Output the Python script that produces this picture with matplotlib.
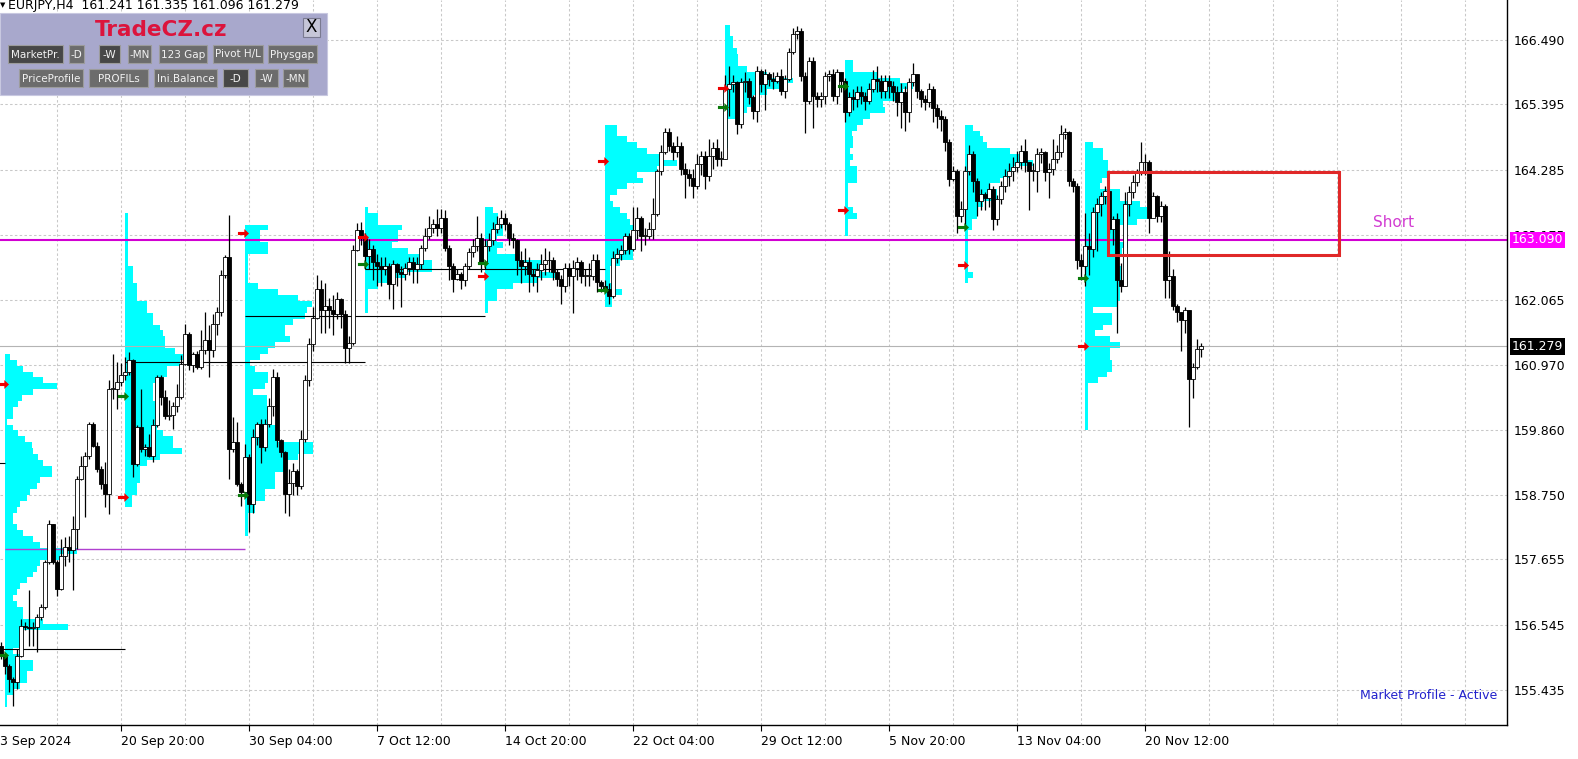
'''EURJPY H4 chart with weekly market profiles (MT4 style)'''

import numpy as np
import matplotlib.pyplot as plt
from matplotlib.patches import Rectangle
from matplotlib.path import Path
import matplotlib.transforms as mtransforms

# ---- quote header (last bar O H L C)
symbol = "EURJPY,H4"
last_ohlc = [161.241, 161.335, 161.096, 161.279]
first_open = 156.19

# ---- H4 candles, one value per bar (bar 0 = leftmost)
close = [
    156.01, 155.85, 155.63, 155.57, 156.02, 156.53, 156.50, 156.49, 156.50, 156.68,
    156.85, 157.61, 158.26, 157.61, 157.16, 157.72, 157.87, 157.81, 158.18, 159.03,
    159.25, 159.42, 159.96, 159.59, 159.20, 158.94, 158.77, 160.56, 160.56, 160.67,
    160.79, 160.84, 161.04, 159.28, 159.91, 159.54, 159.57, 159.42, 159.94, 160.76,
    160.42, 160.10, 160.12, 160.27, 160.42, 160.98, 161.49, 160.96, 161.15, 160.93,
    161.21, 161.38, 161.21, 161.66, 161.86, 162.49, 162.80, 159.54, 159.65, 158.94,
    158.80, 159.40, 158.60, 159.73, 159.96, 159.56, 159.96, 160.27, 160.75, 159.68,
    159.48, 158.77, 158.95, 159.16, 158.90, 159.70, 160.70, 161.32, 161.77, 162.26,
    161.89, 161.97, 161.90, 161.83, 162.08, 161.83, 161.26, 161.34, 162.91, 163.25,
    163.13, 162.82, 162.93, 162.71, 162.65, 162.60, 162.65, 162.34, 162.68, 162.54,
    162.51, 162.62, 162.71, 162.60, 162.68, 162.96, 163.16, 163.30, 163.36, 163.30,
    163.47, 162.96, 162.65, 162.42, 162.51, 162.40, 162.65, 162.88, 162.99, 163.13,
    162.71, 162.99, 163.08, 163.27, 163.36, 163.47, 163.36, 163.13, 163.08, 162.74,
    162.65, 162.71, 162.51, 162.48, 162.57, 162.68, 162.74, 162.74, 162.54, 162.42,
    162.31, 162.62, 162.48, 162.62, 162.71, 162.48, 162.48, 162.48, 162.74, 162.37,
    162.31, 162.26, 162.14, 162.79, 162.85, 162.91, 163.16, 162.94, 163.25, 163.47,
    163.16, 163.16, 163.27, 163.53, 164.27, 164.58, 164.92, 164.69, 164.58, 164.69,
    164.30, 164.21, 164.15, 164.01, 164.38, 164.52, 164.18, 164.52, 164.66, 164.47,
    164.47, 165.66, 165.74, 165.77, 165.06, 165.77, 165.80, 165.52, 165.29, 165.97,
    165.74, 165.91, 165.83, 165.80, 165.88, 165.63, 165.83, 166.28, 166.59, 166.65,
    165.88, 165.46, 166.14, 165.54, 165.49, 165.54, 165.88, 165.91, 165.54, 165.94,
    165.80, 165.26, 165.52, 165.49, 165.60, 165.54, 165.46, 165.66, 165.83, 165.80,
    165.63, 165.80, 165.71, 165.60, 165.43, 165.60, 165.26, 165.77, 165.91, 165.63,
    165.49, 165.43, 165.66, 165.34, 165.20, 165.15, 164.75, 164.13, 164.27, 163.50,
    163.62, 164.27, 164.55, 164.10, 163.76, 163.87, 163.81, 163.96, 163.45, 163.79,
    164.01, 164.18, 164.27, 164.33, 164.41, 164.61, 164.41, 164.27, 164.27, 164.55,
    164.58, 164.24, 164.30, 164.47, 164.58, 164.89, 164.92, 164.10, 164.01, 162.74,
    162.65, 162.99, 162.94, 163.56, 163.70, 163.84, 163.93, 163.28, 163.45, 162.40,
    162.31, 163.70, 163.90, 164.07, 164.24, 164.41, 164.41, 163.47, 163.84, 163.50,
    163.67, 162.40, 162.48, 161.97, 161.86, 161.72, 161.89, 160.72, 160.92, 161.24,
    161.279,
]
high = [
    156.25, 156.05, 155.88, 155.66, 156.14, 156.65, 156.60, 157.13, 156.60, 156.72,
    156.90, 157.65, 158.32, 158.24, 157.65, 158.01, 158.04, 158.06, 158.40, 159.08,
    159.42, 159.48, 159.99, 160.00, 159.65, 159.25, 159.31, 160.70, 161.15, 161.01,
    161.00, 161.10, 161.18, 161.07, 159.94, 160.56, 159.62, 159.79, 160.05, 160.79,
    160.79, 160.53, 160.36, 160.33, 160.64, 161.13, 161.66, 161.52, 161.18, 161.20,
    161.55, 161.86, 161.64, 161.83, 161.95, 162.57, 162.83, 163.51, 160.08, 159.99,
    158.97, 159.62, 159.45, 159.87, 160.00, 160.04, 160.05, 160.40, 160.90, 160.84,
    159.70, 159.50, 159.20, 159.30, 159.20, 159.85, 160.80, 161.42, 161.95, 162.50,
    162.40, 162.35, 162.10, 162.15, 162.20, 162.10, 161.90, 161.45, 163.00, 163.38,
    163.40, 163.20, 163.10, 163.00, 162.85, 162.80, 162.80, 162.70, 162.75, 162.70,
    162.65, 162.70, 162.80, 162.80, 162.80, 163.00, 163.30, 163.50, 163.45, 163.62,
    163.62, 163.60, 163.00, 162.70, 162.60, 162.55, 162.70, 162.95, 163.10, 163.50,
    163.20, 163.10, 163.20, 163.40, 163.50, 163.60, 163.55, 163.40, 163.20, 163.10,
    162.90, 162.95, 162.80, 162.60, 162.70, 162.85, 162.95, 162.90, 162.80, 162.60,
    162.50, 162.70, 162.70, 162.75, 162.80, 162.75, 162.60, 162.70, 162.85, 162.85,
    162.40, 162.40, 162.35, 162.90, 162.95, 163.00, 163.20, 163.20, 163.65, 163.65,
    163.50, 163.30, 163.40, 163.80, 164.30, 164.70, 165.00, 165.00, 164.75, 164.85,
    164.75, 164.40, 164.30, 164.30, 164.55, 164.60, 164.60, 164.80, 164.75, 164.80,
    164.60, 165.90, 166.05, 165.90, 165.80, 165.85, 165.95, 165.85, 165.55, 166.05,
    166.00, 166.00, 165.95, 165.95, 165.95, 166.00, 165.90, 166.35, 166.70, 166.73,
    166.70, 165.95, 166.20, 166.20, 165.60, 165.60, 165.95, 165.98, 166.00, 166.00,
    165.95, 165.85, 165.60, 165.65, 165.70, 165.70, 165.60, 165.75, 165.98, 166.05,
    165.90, 165.90, 165.90, 165.80, 165.70, 165.75, 165.70, 165.85, 166.10, 165.90,
    165.65, 165.55, 165.75, 165.70, 165.40, 165.30, 165.20, 164.80, 164.35, 164.30,
    163.75, 164.35, 164.70, 164.60, 164.15, 163.95, 163.90, 164.05, 164.00, 163.85,
    164.10, 164.30, 164.40, 164.50, 164.60, 164.70, 164.80, 164.40, 164.40, 164.65,
    164.65, 164.60, 164.40, 164.80, 164.70, 165.05, 165.00, 164.95, 164.15, 164.05,
    162.85, 163.55, 163.20, 163.65, 163.80, 163.90, 164.00, 163.85, 163.50, 163.55,
    162.70, 163.90, 164.00, 164.20, 164.30, 164.76, 164.55, 164.45, 163.90, 163.85,
    163.75, 163.70, 162.90, 162.60, 162.00, 161.85, 161.95, 161.90, 161.00, 161.40,
    161.335,
]
low = [
    155.97, 155.71, 155.40, 155.17, 155.46, 156.00, 156.45, 156.19, 156.19, 156.08,
    156.62, 156.82, 157.58, 157.58, 157.04, 157.13, 157.55, 157.61, 157.13, 157.84,
    159.00, 158.38, 159.37, 159.57, 159.14, 158.86, 158.55, 158.43, 160.39, 160.22,
    160.60, 160.70, 160.80, 159.06, 159.25, 159.48, 159.42, 159.40, 159.31, 159.90,
    160.28, 160.05, 160.02, 159.88, 160.16, 160.39, 160.96, 160.87, 160.84, 160.90,
    160.90, 161.15, 160.76, 161.10, 161.47, 161.80, 162.45, 159.03, 159.48, 158.91,
    158.57, 158.72, 158.12, 158.45, 159.60, 159.30, 159.50, 159.90, 160.10, 159.56,
    159.40, 158.44, 158.40, 158.75, 158.75, 158.85, 159.65, 160.60, 161.20, 161.75,
    161.50, 161.50, 161.60, 161.48, 161.75, 161.60, 161.00, 161.00, 161.30, 162.90,
    163.00, 162.60, 162.60, 162.40, 162.30, 162.31, 162.50, 162.09, 161.92, 162.30,
    161.95, 162.40, 162.50, 162.35, 162.35, 162.60, 162.90, 163.10, 163.20, 163.15,
    163.20, 162.90, 162.40, 162.20, 162.40, 162.25, 162.30, 162.60, 162.80, 162.90,
    162.55, 162.60, 162.90, 163.00, 163.20, 163.30, 163.25, 163.00, 162.95, 162.50,
    162.35, 162.50, 162.20, 162.30, 162.20, 162.40, 162.50, 162.55, 162.40, 162.30,
    162.00, 162.20, 162.30, 161.85, 162.40, 162.35, 162.30, 162.30, 162.40, 162.20,
    162.20, 162.20, 162.00, 162.10, 162.70, 162.75, 162.85, 162.85, 162.90, 163.10,
    162.90, 163.00, 163.10, 163.10, 163.50, 164.20, 164.55, 164.60, 164.45, 164.50,
    164.20, 163.80, 164.00, 163.80, 163.95, 164.20, 163.95, 164.10, 164.30, 164.35,
    164.35, 164.70, 165.20, 165.60, 164.89, 165.00, 165.60, 165.40, 165.15, 165.10,
    165.60, 165.30, 165.70, 165.65, 165.75, 165.55, 165.50, 165.80, 166.25, 166.50,
    165.80, 164.90, 165.40, 165.00, 165.35, 165.35, 165.40, 165.80, 165.45, 165.40,
    165.60, 165.10, 165.20, 165.30, 165.35, 165.40, 165.30, 165.40, 165.60, 165.60,
    165.50, 165.50, 165.50, 165.45, 165.20, 165.00, 164.95, 165.10, 165.70, 165.50,
    165.35, 165.30, 165.35, 165.10, 165.00, 164.95, 164.60, 164.00, 164.10, 163.20,
    163.40, 163.30, 164.20, 163.90, 163.50, 163.60, 163.60, 163.65, 163.25, 163.35,
    163.70, 163.90, 164.00, 164.10, 164.25, 164.30, 164.25, 163.60, 164.10, 163.90,
    164.40, 164.10, 163.80, 164.20, 164.40, 164.50, 164.80, 164.00, 163.90, 162.60,
    162.40, 162.30, 162.50, 162.80, 162.90, 163.50, 163.70, 163.20, 163.00, 161.50,
    162.20, 162.30, 163.50, 163.80, 164.00, 164.20, 164.20, 163.20, 163.50, 163.40,
    163.40, 162.10, 162.10, 161.90, 161.70, 161.20, 161.50, 159.90, 160.40, 160.90,
    161.096,
]

# ---- weekly market profiles: first bar of the week, top price, TPO widths (0.1 steps, top -> down)
prof_start = [1, 31, 61, 91, 121, 151, 181, 211, 241, 271]
prof_top = [161.1, 163.5, 163.3, 163.6, 163.6, 165.0, 166.7, 166.1, 165.0, 164.7]
prof1 = [5, 12, 18, 28, 38, 52, 28, 17, 13, 8, 8, 2, 8, 13, 20, 27, 28, 33, 38, 47,
         47, 35, 32, 25, 22, 15, 12, 8, 8, 12, 18, 28, 35, 72, 55, 35, 32, 28, 22, 15,
         12, 8, 12, 18, 18, 38, 63, 15, 15, 15, 8, 15, 28, 28, 22, 22, 15, 8, 2, 2]
prof2 = [3, 3, 3, 3, 3, 3, 3, 3, 3, 8, 8, 8, 12, 12, 12, 22, 22, 28, 28,
         35, 38, 40, 40, 50, 58, 55, 42, 42, 32, 28, 28, 28, 32, 32, 35, 35, 32, 38, 48,
         48, 57, 35, 22, 15, 15, 15, 12, 12, 7, 7]
prof3 = [23, 15, 15, 23, 23, 3, 3, 3, 3, 3, 13, 33, 53, 67, 62, 60, 48, 40, 40, 45,
         30, 23, 15, 5, 10, 23, 23, 20, 8, 22, 22, 25, 25, 27, 33, 33, 33, 68, 68, 53,
         43, 43, 30, 30, 30, 20, 20, 10, 10, 3, 3, 3, 3]
prof4 = [3, 13, 13, 37, 33, 33, 27, 43, 55, 67, 67, 40, 27, 13, 3, 3, 3, 3]
prof5 = [8, 13, 13, 18, 18, 12, 18, 12, 35, 57, 57, 70, 52, 28, 12, 12, 3, 3]
prof6 = [12, 12, 22, 32, 42, 55, 72, 52, 32, 38, 22, 12, 5, 8, 15, 22, 25, 28, 25, 18,
         22, 28, 28, 15, 5, 5, 5, 8, 17, 7, 7]
prof7 = [5, 5, 8, 8, 12, 13, 13, 22, 42, 68, 58, 42, 28, 28, 22, 12, 3, 3, 3, 3, 3]
prof8 = [8, 8, 32, 55, 68, 58, 58, 38, 40, 25, 18, 12, 7, 8, 8, 5, 8, 5, 12, 12,
         12, 3, 3, 3, 3, 8, 12, 3, 3, 3]
prof9 = [8, 15, 18, 22, 45, 58, 68, 48, 45, 35, 25, 32, 32, 18, 12, 12, 7, 7, 3, 3,
         3, 3, 3, 3, 3, 8, 3]
prof10 = [8, 18, 18, 23, 23, 22, 17, 15, 35, 35, 55, 62, 62, 52, 33, 33, 32, 43, 37, 33,
          33, 37, 37, 37, 35, 35, 35, 32, 8, 27, 27, 18, 10, 25, 35, 25, 25, 27, 27, 22,
          13, 3, 3, 3, 3, 3, 3, 3, 3]
profiles = [prof1, prof2, prof3, prof4, prof5, prof6, prof7, prof8, prof9, prof10]

# profile markers (price of red / green arrow per week)
red_marks = [160.64, 158.71, 163.21, 163.14, 162.48, 164.43, 165.67, 163.60, 162.66, 161.29]
green_marks = [156.03, 160.44, 158.75, 162.68, 162.70, 162.24, 165.35, 165.71, 163.31, 162.44]

# level lines: (from bar, to bar, price)
poc_lines = [(-1, 1, 159.30), (-1, 31, 156.14), (31, 91, 161.01), (61, 121, 161.80), (91, 151, 162.60)]
poc_magenta = (1, 61, 157.84)
short_level = 163.090
short_zone = (276.8, 334.4, 162.84, 164.25)   # t1, t2, price low, price high

# axes labels
price_levels = [166.490, 165.395, 164.285, 163.175, 162.065, 160.970, 159.860,
                158.750, 157.655, 156.545, 155.435]
time_bars = [30, 62, 94, 126, 158, 190, 222, 254, 286]
time_labels = ["20 Sep 20:00", "30 Sep 04:00", "7 Oct 12:00", "14 Oct 20:00", "22 Oct 04:00",
               "29 Oct 12:00", "5 Nov 20:00", "13 Nov 04:00", "20 Nov 12:00"]

# ------------------------------------------------------------------ figure
W, H = 1578, 759
fig = plt.figure(figsize=(W / 100, H / 100), dpi=100)
ax = fig.add_axes([0, 34 / H, 1507 / W, 725 / H])
ax.set_xlim(-0.25, 376.5)
ax.set_ylim(154.84, 167.17)

grid_kw = dict(color='#c8c8c8', lw=0.75, dashes=(2.4, 2.2), zorder=0)
for p in price_levels:
    ax.axhline(p, **grid_kw)
for b in range(14, 377, 16):
    ax.axvline(b, **grid_kw)

# market profiles
for start, top, widths in zip(prof_start, prof_top, profiles):
    w = np.array(widths) / 4.0
    prices = top - 0.1 * np.arange(len(w))
    ax.barh(prices, w, left=start, height=0.1, color='#00ffff', lw=0,
            antialiased=False, zorder=1)

# level lines
for t1, t2, p in poc_lines:
    ax.hlines(p, t1, t2, color='black', lw=0.8, zorder=2)
ax.hlines(poc_magenta[2], poc_magenta[0], poc_magenta[1], color='#b040d0', lw=1.0, zorder=2)
ax.axhline(last_ohlc[3], color='#b4b4b4', lw=0.8, zorder=2)
ax.axhline(short_level, color='#d100d1', lw=1.5, zorder=2)

# candles
c = np.array(close)
o = np.r_[first_open, c[:-1]]
o[-1] = last_ohlc[0]
hi = np.maximum(np.array(high), np.maximum(o, c))
lo = np.minimum(np.array(low), np.minimum(o, c))
idx = np.arange(len(c))
ax.vlines(idx, lo, hi, color='black', lw=0.9, zorder=3)
up = c >= o
body = np.maximum(np.abs(c - o), 0.012)
ax.bar(idx[up], body[up], bottom=np.minimum(o, c)[up], width=0.85,
       color='white', edgecolor='black', lw=0.6, zorder=4)
ax.bar(idx[~up], body[~up], bottom=np.minimum(o, c)[~up], width=0.85,
       color='black', edgecolor='black', lw=0.6, zorder=4)

# arrows at the start of each profile
arrow = Path([(-1, -0.28), (0.15, -0.28), (0.15, -0.8), (1, 0), (0.15, 0.8),
              (0.15, 0.28), (-1, 0.28), (-1, -0.28)])
xs = np.array(prof_start) - 0.5
ax.plot(xs, red_marks, ls='none', marker=arrow, ms=8, color='#ee0000', mew=0, zorder=6)
ax.plot(xs, green_marks, ls='none', marker=arrow, ms=8, color='#0a7a0a', mew=0, zorder=6)

# short zone
t1, t2, plo, phi = short_zone
ax.add_patch(Rectangle((t1, plo), t2 - t1, phi - plo, fill=False,
                       edgecolor='#e02828', lw=2.2, zorder=7))
ax.text(348.25, 163.39, "Short", color='#d23cd2', fontsize=11, ha='center', va='center')
ax.text(0.9934, 0.041, "Market Profile - Active", transform=ax.transAxes,
        color='#2222cc', fontsize=9, ha='right', va='center')

# axes styling
for s in ['left', 'top']:
    ax.spines[s].set_visible(False)
for s in ['right', 'bottom']:
    ax.spines[s].set_color('black')
    ax.spines[s].set_linewidth(1.0)
ax.yaxis.tick_right()
ax.set_yticks(price_levels)
ax.set_yticklabels(["%.3f" % p for p in price_levels])
ax.tick_params(axis='y', length=0, pad=5, labelsize=9)
ax.set_xticks(time_bars)
ax.set_xticklabels(time_labels, ha='left')
ax.tick_params(axis='x', length=4, width=0.8, direction='out', pad=3, labelsize=9)
ax.text(-0.25, -0.014, "3 Sep 2024", transform=mtransforms.blended_transform_factory(ax.transData, ax.transAxes),
        fontsize=9, ha='left', va='top')

# price boxes on the axis
blend = mtransforms.blended_transform_factory(ax.transAxes, ax.transData)
ax.text(1.0033, short_level, "%.3f" % short_level, transform=blend, color='white', fontsize=9,
        ha='left', va='center', clip_on=False, zorder=10,
        bbox=dict(boxstyle='square,pad=0.15', fc='#ff00ff', ec='none'))
ax.text(1.0033, last_ohlc[3], "%.3f" % last_ohlc[3], transform=blend, color='white', fontsize=9,
        ha='left', va='center', clip_on=False, zorder=10,
        bbox=dict(boxstyle='square,pad=0.15', fc='black', ec='none'))

# ---- header and control panel (figure pixels, measured from top)
def fx(x):
    return x / W


def fy(y):
    return 1 - y / H


fig.text(fx(0), fy(5), "\u25bc", fontsize=5, va='center', ha='left')
fig.text(fx(8), fy(6), "%s  %s" % (symbol, " ".join("%.3f" % v for v in last_ohlc)),
         fontsize=9, va='center', ha='left')

fig.patches.append(Rectangle((fx(0), fy(95)), fx(327), 82 / H, transform=fig.transFigure,
                             fc='#a8a8cc', ec='#c8c8e0', lw=0.8, zorder=20))
fig.text(fx(161), fy(30), "TradeCZ.cz", color='#dc143c', fontsize=15.5, fontweight='bold',
         ha='center', va='center', zorder=21)
fig.patches.append(Rectangle((fx(303), fy(37)), fx(17), 19 / H, transform=fig.transFigure,
                             fc='#c6c6d8', ec='#7a7a90', lw=0.8, zorder=21))
fig.text(fx(311.5), fy(27.5), "X", fontsize=12, ha='center', va='center', zorder=22)

buttons = [
    ("MarketPr.", 8, 63, 45, True), ("-D", 69, 84, 45, False), ("-W", 99, 120, 45, True),
    ("-MN", 128, 151, 45, False), ("123 Gap", 159, 207, 45, False),
    ("Pivot H/L", 213, 263, 45, False), ("Physgap", 268, 317, 45, False),
    ("PriceProfile", 19, 83, 69, False), ("PROFILs", 89, 148, 69, False),
    ("Ini.Balance", 154, 217, 69, False), ("-D", 223, 248, 69, True),
    ("-W", 255, 278, 69, False), ("-MN", 283, 308, 69, False),
]
for label, x0, x1, y0, pressed in buttons:
    fc = '#474747' if pressed else '#6c6c6c'
    fig.patches.append(Rectangle((fx(x0), fy(y0 + 18)), fx(x1 - x0), 18 / H,
                                 transform=fig.transFigure, fc=fc, ec='#9c9c9c', lw=0.8, zorder=21))
    fig.text(fx((x0 + x1) / 2), fy(y0 + 9.5), label, color='#f2f2f2', fontsize=7.5,
             ha='center', va='center', zorder=22)

fig.savefig("out.png", dpi=100)
